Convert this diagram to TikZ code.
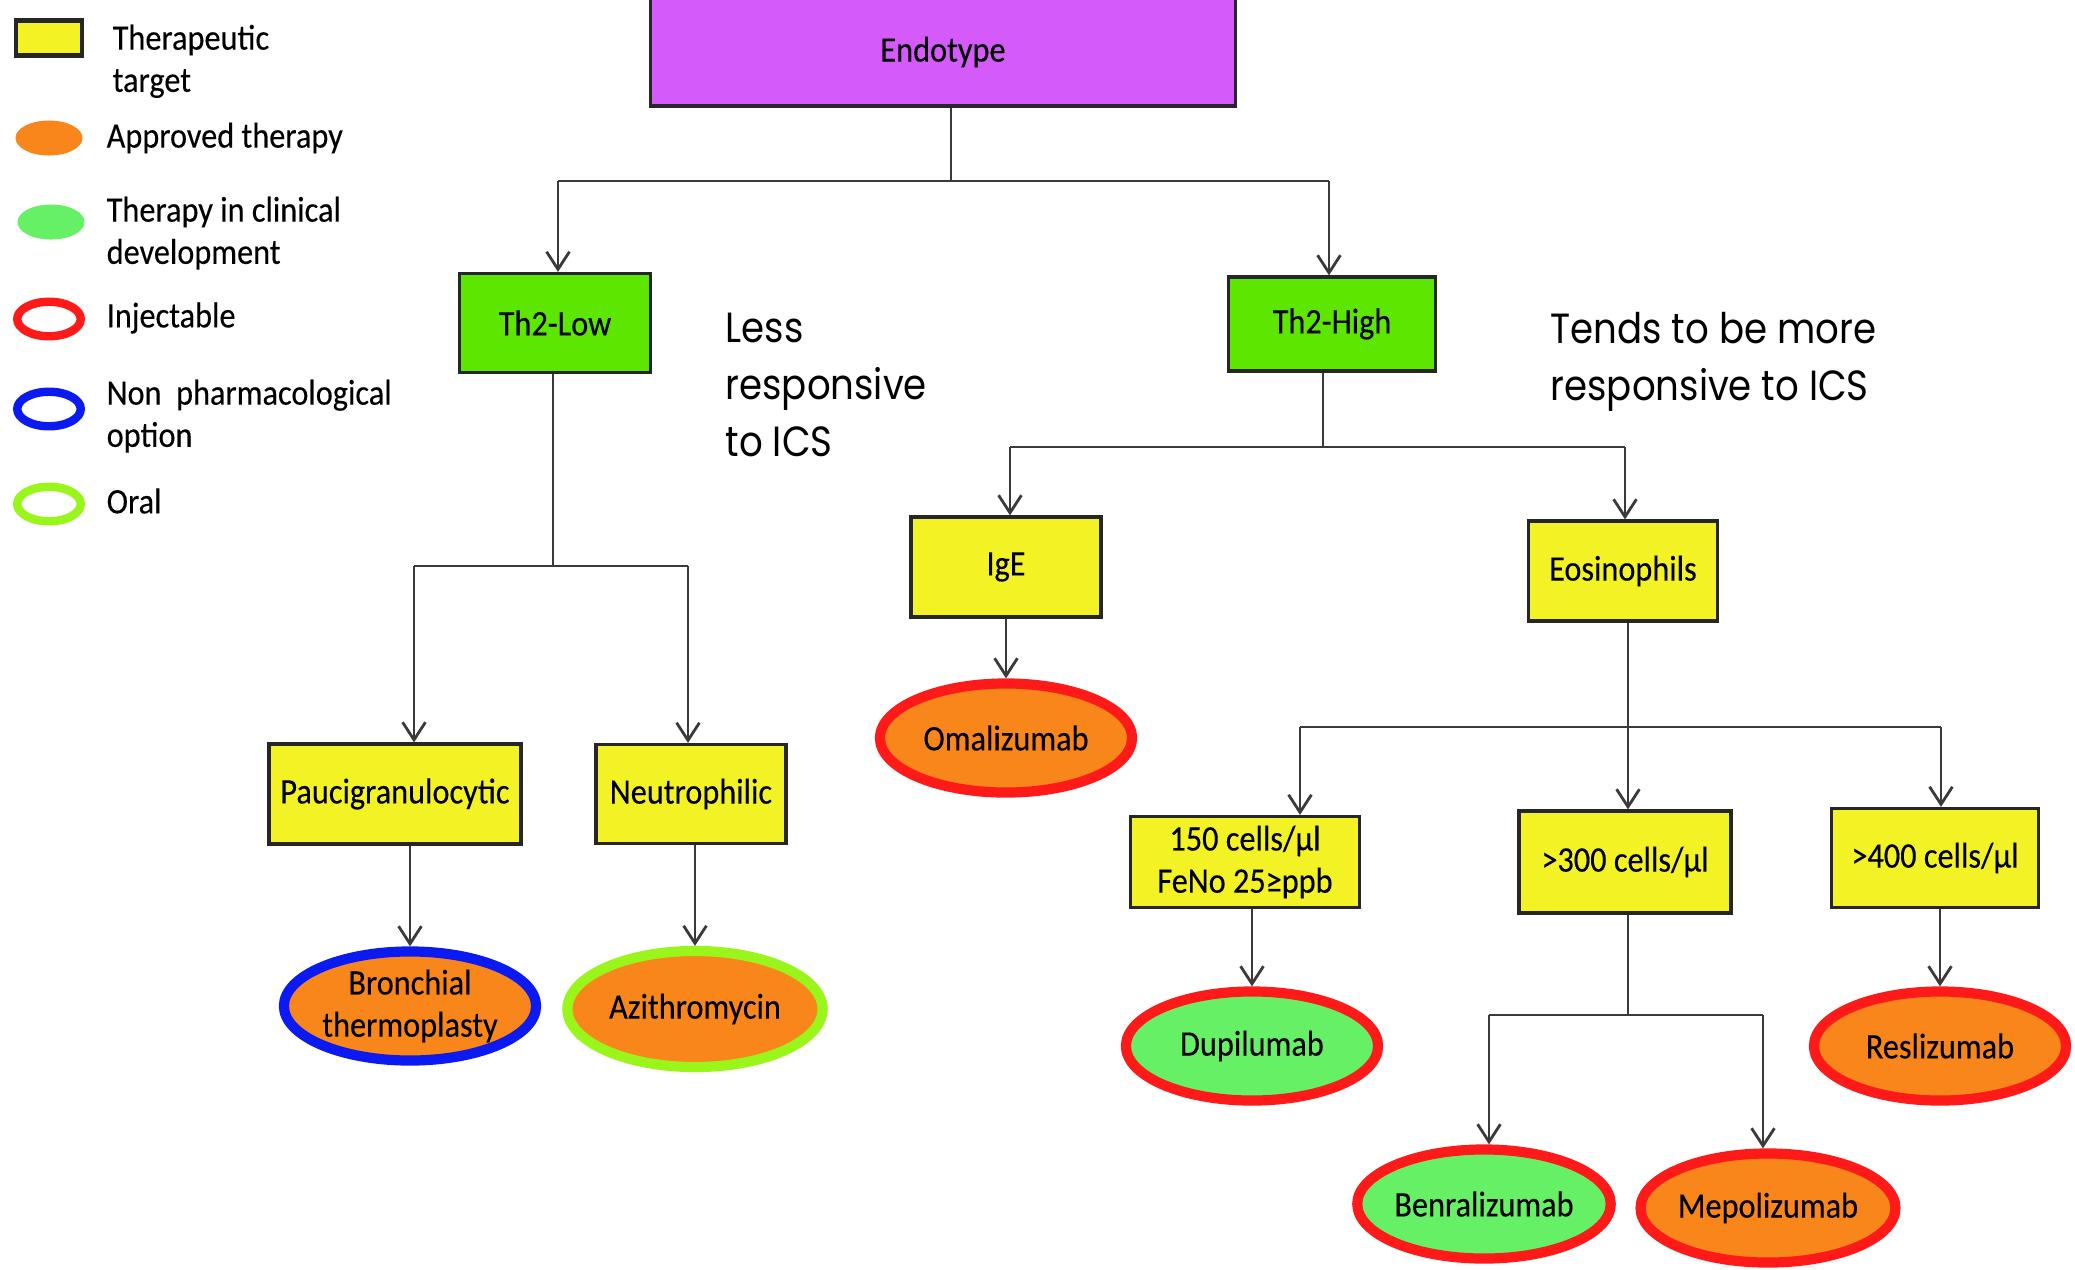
\documentclass[tikz,border=0pt]{standalone}
\usepackage{fontspec}
\newfontfamily\boxfont[FakeStretch=0.9,FakeBold=0.25]{Carlito}
\newfontfamily\notefont[FakeStretch=0.88]{Poppins}
\usetikzlibrary{shapes.geometric,arrows.meta}

\definecolor{EndoMagenta}{HTML}{D45AFA}
\definecolor{PhenoGreen}{HTML}{5CE600}
\definecolor{TargetYellow}{HTML}{F2F224}
\definecolor{ApprovedOrange}{HTML}{F8861A}
\definecolor{TrialGreen}{HTML}{66F066}
\definecolor{InjectRed}{HTML}{FF1A1A}
\definecolor{NonPharmBlue}{HTML}{0A1AF0}
\definecolor{OralLime}{HTML}{99F51A}
\definecolor{LineGray}{HTML}{3A3A3A}

\begin{document}
\begin{tikzpicture}[x=0.01cm, y=-0.01cm, font=\boxfont\fontsize{10.2}{12}\selectfont]
\useasboundingbox (0,0) rectangle (2075,1269);

\coordinate (B0) at (951,181);
\coordinate (B0_L) at (558,181);
\coordinate (B0_R) at (1329,181);
\coordinate (B1) at (553,566);
\coordinate (B1_L) at (414,566);
\coordinate (B1_R) at (688,566);
\coordinate (B2) at (1323,447);
\coordinate (B2_L) at (1010,447);
\coordinate (B2_R) at (1625,447);
\coordinate (B3) at (1628,727);
\coordinate (B3_L) at (1300,727);
\coordinate (B3_R) at (1941,727);
\coordinate (B4) at (1628,1015);
\coordinate (B4_L) at (1489,1015);
\coordinate (B4_R) at (1763,1015);


\tikzset{BoxStyle/.style = {
 draw = black!85,
 line width = 0.9pt,
 inner sep = 0pt,
 align = center} }

\node[BoxStyle, fill=EndoMagenta, minimum width=5.85cm, minimum height=1.08cm] (Endo) at (943,52) {Endotype};
\node[BoxStyle, fill=PhenoGreen, minimum width=1.91cm, minimum height=0.99cm] (Th2L) at (555,323) {Th2-Low};
\node[BoxStyle, fill=PhenoGreen, minimum width=2.07cm, minimum height=0.94cm] (Th2H) at (1332,324) {Th2-High};
\node[BoxStyle, fill=TargetYellow, minimum width=2.52cm, minimum height=1.00cm] (Pauci) at (395,794) {Paucigranulocytic};
\node[BoxStyle, fill=TargetYellow, minimum width=1.90cm, minimum height=0.99cm] (Neutro) at (691,794) {Neutrophilic};
\node[BoxStyle, fill=TargetYellow, minimum width=1.90cm, minimum height=1.00cm] (IgE) at (1006,567) {IgE};
\node[BoxStyle, fill=TargetYellow, minimum width=1.89cm, minimum height=1.00cm] (Eos) at (1623,571) {Eosinophils};
\node[BoxStyle, fill=TargetYellow, minimum width=2.29cm, minimum height=0.91cm] (C150) at (1245,862) {150 cells/µl\\FeNo 25≥ppb};
\node[BoxStyle, fill=TargetYellow, minimum width=2.12cm, minimum height=1.02cm] (C300) at (1625,862) {>300 cells/µl};
\node[BoxStyle, fill=TargetYellow, minimum width=2.07cm, minimum height=0.99cm] (C400) at (1935,858) {>400 cells/µl};


\tikzset{TherapyStyle/.style = {
 shape = ellipse,
 line width = 2.9pt,
 inner sep = 0pt,
 align = center,
 minimum width = 2.52cm,
 minimum height = 1.09cm} }

\node[TherapyStyle, draw=NonPharmBlue, fill=ApprovedOrange] (Bronch) at (410,1006) {Bronchial\\thermoplasty};
\node[TherapyStyle, draw=OralLime, fill=ApprovedOrange, minimum width=2.55cm, minimum height=1.16cm] (Azith) at (695,1009) {Azithromycin};
\node[TherapyStyle, draw=InjectRed, fill=ApprovedOrange] (Omal) at (1006,738) {Omalizumab};
\node[TherapyStyle, draw=InjectRed, fill=TrialGreen] (Dupi) at (1252,1046) {Dupilumab};
\node[TherapyStyle, draw=InjectRed, fill=TrialGreen] (Benra) at (1484,1204) {Benralizumab};
\node[TherapyStyle, draw=InjectRed, fill=ApprovedOrange] (Mepo) at (1768,1208) {Mepolizumab};
\node[TherapyStyle, draw=InjectRed, fill=ApprovedOrange] (Resli) at (1940,1046) {Reslizumab};


\tikzset{EdgeStyle/.style = {draw=LineGray, line width=0.8pt} }
\tikzset{ArrowStyle/.style = {EdgeStyle, -{Straight Barb[length=5pt,width=6.5pt]}} }

\draw[EdgeStyle] (Endo.south -| B0) -- (B0);
\draw[EdgeStyle] (B0_L) -- (B0_R);
\draw[ArrowStyle] (B0_L) -- (B0_L |- Th2L.north);
\draw[ArrowStyle] (B0_R) -- (B0_R |- Th2H.north);

\draw[EdgeStyle] (Th2L.south -| B1) -- (B1);
\draw[EdgeStyle] (B1_L) -- (B1_R);
\draw[ArrowStyle] (B1_L) -- (B1_L |- Pauci.north);
\draw[ArrowStyle] (B1_R) -- (B1_R |- Neutro.north);
\draw[ArrowStyle] (Pauci.south -| Bronch) -- (Bronch.north);
\draw[ArrowStyle] (Neutro.south -| Azith) -- (Azith.north);

\draw[EdgeStyle] (Th2H.south -| B2) -- (B2);
\draw[EdgeStyle] (B2_L) -- (B2_R);
\draw[ArrowStyle] (B2_L) -- (B2_L |- IgE.north);
\draw[ArrowStyle] (B2_R) -- (B2_R |- Eos.north);
\draw[ArrowStyle] (IgE.south -| Omal) -- (Omal.north);

\draw[EdgeStyle] (Eos.south -| B3) -- (B3);
\draw[EdgeStyle] (B3_L) -- (B3_R);
\draw[ArrowStyle] (B3_L) -- (B3_L |- C150.north);
\draw[ArrowStyle] (B3) -- (B3 |- C300.north);
\draw[ArrowStyle] (B3_R) -- (B3_R |- C400.north);
\draw[ArrowStyle] (C150.south -| Dupi) -- (Dupi.north);
\draw[ArrowStyle] (C400.south -| Resli) -- (Resli.north);

\draw[EdgeStyle] (C300.south -| B4) -- (B4);
\draw[EdgeStyle] (B4_L) -- (B4_R);
\draw[ArrowStyle] (B4_L) -- (B4_L |- Benra.north);
\draw[ArrowStyle] (B4_R) -- (B4_R |- Mepo.north);


\tikzset{NoteStyle/.style = {
 font = \notefont\fontsize{12}{16.2}\selectfont,
 inner sep = 0pt,
 align = left,
 anchor = north west} }

\node[NoteStyle] (LessNote) at (725,312) {Less\\responsive\\to ICS};
\node[NoteStyle] (MoreNote) at (1550,312) {Tends to be more\\responsive to ICS};


% legend
\tikzset{KeyStyle/.style = {
 shape = ellipse,
 inner sep = 0pt,
 minimum width = 0.67cm,
 minimum height = 0.35cm} }
\tikzset{RingStyle/.style = {
 KeyStyle,
 line width = 2.4pt,
 minimum width = 0.635cm,
 minimum height = 0.345cm} }
\tikzset{LabelStyle/.style = {inner sep=0pt, align=left, anchor=west} }

\node[BoxStyle, fill=TargetYellow, line width=1.2pt, minimum width=0.66cm, minimum height=0.35cm] (KeyTarget) at (49,38) {};
\node[KeyStyle, fill=ApprovedOrange] (KeyApproved) at (49,138) {};
\node[KeyStyle, fill=TrialGreen] (KeyTrial) at (51,222) {};
\node[RingStyle, draw=InjectRed] (KeyInject) at (49,319) {};
\node[RingStyle, draw=NonPharmBlue] (KeyNonPharm) at (49,409) {};
\node[RingStyle, draw=OralLime] (KeyOral) at (49,504) {};

\node[LabelStyle, anchor=north west] (LblTarget) at (112,24) {Therapeutic\\target};
\node[LabelStyle] (LblApproved) at (106,138) {Approved therapy};
\node[LabelStyle, anchor=north west] (LblTrial) at (106,196) {Therapy in clinical\\development};
\node[LabelStyle] (LblInject) at (106,318) {Injectable};
\node[LabelStyle, anchor=north west] (LblNonPharm) at (106,379) {Non\ \ pharmacological\\option};
\node[LabelStyle] (LblOral) at (106,501) {Oral};

\end{tikzpicture}
\end{document}
